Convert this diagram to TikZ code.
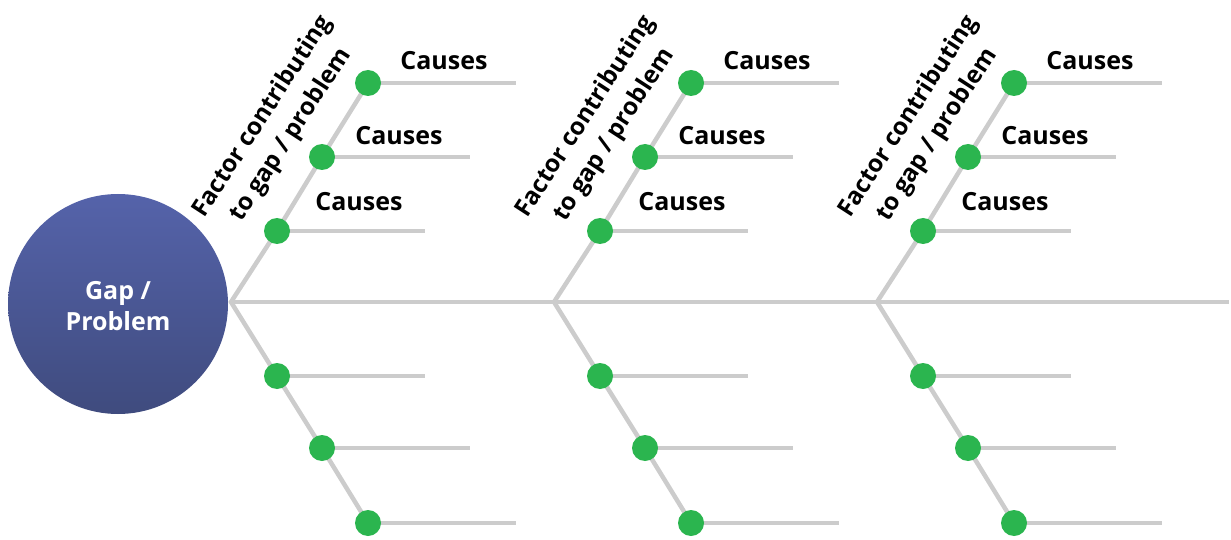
\documentclass[tikz,border=0pt]{standalone}
\usepackage{fontspec}
\setmainfont{Open Sans}
\begin{document}
\begin{tikzpicture}[x=1pt,y=-1pt,
  bone/.style={draw=boneGray,line width=4.5pt},
  dot/.style={circle,fill=dotGreen,draw=none,minimum size=26pt,inner sep=0pt},
  causelbl/.style={font=\fontsize{25}{30}\selectfont\bfseries,text=black,inner sep=0pt},
  factorlbl/.style={font=\fontsize{24.3}{34}\selectfont\bfseries,text=black,align=center,rotate=57,inner sep=0pt},
  headlbl/.style={font=\fontsize{25}{31}\selectfont\bfseries,text=white,align=center,inner sep=0pt}]
\definecolor{boneGray}{HTML}{CCCCCC}
\definecolor{dotGreen}{HTML}{2BB54F}
\definecolor{headTop}{HTML}{5563AA}
\definecolor{headBot}{HTML}{3F4B7E}
\useasboundingbox (0,0) rectangle (1231,540);

% spine
\coordinate (spineL) at (231,302);
\coordinate (spineR) at (1229,302);
\draw[bone] (spineL) -- (spineR);

% three ribs, each with three causes above and three below
\foreach \g/\dx in {1/0,2/323,3/646}{
  \coordinate (v\g) at (231+\dx,302);
  \coordinate (u\g a) at (277+\dx,231);
  \coordinate (u\g b) at (322+\dx,157);
  \coordinate (u\g c) at (368+\dx,83);
  \coordinate (l\g a) at (277+\dx,376);
  \coordinate (l\g b) at (322+\dx,448);
  \coordinate (l\g c) at (368+\dx,523);
  \coordinate (ue\g a) at (425+\dx,231);
  \coordinate (ue\g b) at (470+\dx,157);
  \coordinate (ue\g c) at (516+\dx,83);
  \coordinate (le\g a) at (425+\dx,376);
  \coordinate (le\g b) at (470+\dx,448);
  \coordinate (le\g c) at (516+\dx,523);
  \draw[bone] (u\g a) -- (ue\g a);
  \draw[bone] (u\g b) -- (ue\g b);
  \draw[bone] (u\g c) -- (ue\g c);
  \draw[bone] (l\g a) -- (le\g a);
  \draw[bone] (l\g b) -- (le\g b);
  \draw[bone] (l\g c) -- (le\g c);
  \draw[bone,line join=miter] (u\g c) -- (u\g b) -- (u\g a) -- (v\g) -- (l\g a) -- (l\g b) -- (l\g c);
  \node[dot] (du\g a) at (u\g a) {};
  \node[dot] (du\g b) at (u\g b) {};
  \node[dot] (du\g c) at (u\g c) {};
  \node[dot] (dl\g a) at (l\g a) {};
  \node[dot] (dl\g b) at (l\g b) {};
  \node[dot] (dl\g c) at (l\g c) {};
  \node[causelbl] (c\g a) at (359+\dx,202) {Causes};
  \node[causelbl] (c\g b) at (399+\dx,136) {Causes};
  \node[causelbl] (c\g c) at (444+\dx,61) {Causes};
  \node[factorlbl] (f\g) at (277+\dx,126) {Factor contributing\\to gap / problem};
}

% head of the fish
\shade[top color=headTop,bottom color=headBot] (118,304) circle[radius=110];
\node[headlbl] (head) at (118,306) {Gap /\\Problem};
\end{tikzpicture}
\end{document}
